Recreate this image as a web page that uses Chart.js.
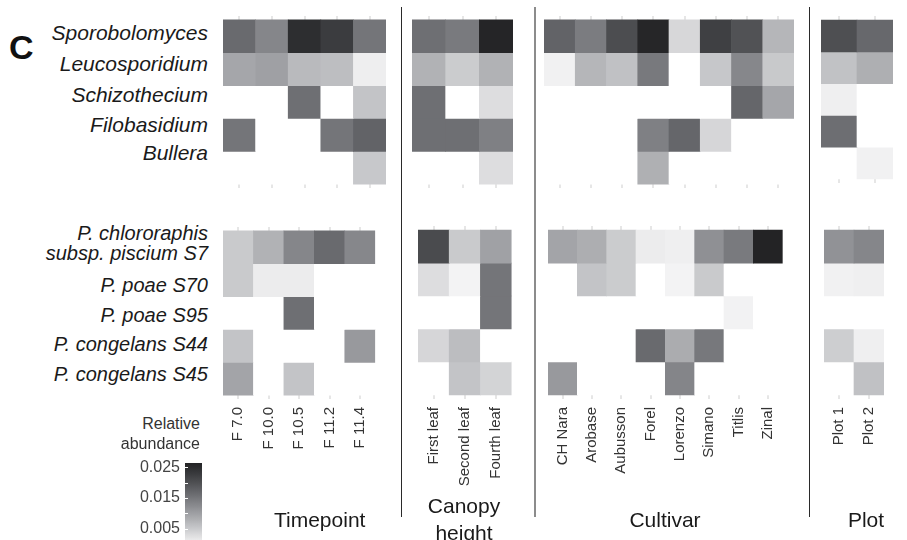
<!DOCTYPE html>
<html>
<head>
<meta charset="utf-8">
<script src="https://cdn.jsdelivr.net/npm/chart.js@4"></script>
<style>
  html, body { margin: 0; padding: 0; background: #fff; }
  body { width: 907px; height: 540px; overflow: hidden; position: relative;
         font-family: "Liberation Sans", Arial, sans-serif; }
  canvas { position: absolute; }
  .txt { position: absolute; white-space: nowrap; line-height: 1; color: #1a1a1a; }
  .sep { position: absolute; }
</style>
</head>
<body>
<script>
// ---- categories -------------------------------------------------------
const timepoints    = ['F 7.0', 'F 10.0', 'F 10.5', 'F 11.2', 'F 11.4'];
const canopyHeights = ['First leaf', 'Second leaf', 'Fourth leaf'];
const cultivars     = ['CH Nara', 'Arobase', 'Aubusson', 'Forel', 'Lorenzo', 'Simano', 'Titlis', 'Zinal'];
const plots         = ['Plot 1', 'Plot 2'];

const fungi    = ['Sporobolomyces', 'Leucosporidium', 'Schizothecium', 'Filobasidium', 'Bullera'];
const bacteria = [['P. chlororaphis', 'subsp. piscium S7'], ['P. poae S70'], ['P. poae S95'],
                  ['P. congelans S44'], ['P. congelans S45']];

const facetTitles = [['Timepoint'], ['Canopy', 'height'], ['Cultivar'], ['Plot']];

// ---- relative abundance (rows follow taxa order, 0 = not detected) ----
const fungiTimepoint = [
  [0.0165, 0.0130, 0.0248, 0.0227, 0.0151],
  [0.0091, 0.0099, 0.0068, 0.0063, 0.0009],
  [0,      0,      0.0159, 0,      0.0057],
  [0.0151, 0,      0,      0.0151, 0.0174],
  [0,      0,      0,      0,      0.0052]
];
const fungiCanopy = [
  [0.0159, 0.0145, 0.0261],
  [0.0077, 0.0047, 0.0077],
  [0.0159, 0,      0.0028],
  [0.0159, 0.0159, 0.0138],
  [0,      0,      0.0028]
];
const fungiCultivar = [
  [0.0174, 0.0143, 0.0204, 0.0259, 0.0035, 0.0222, 0.0197, 0.0073],
  [0.0006, 0.0073, 0.0060, 0.0146, 0,      0.0053, 0.0129, 0.0051],
  [0,      0,      0,      0,      0,      0,      0.0171, 0.0091],
  [0,      0,      0,      0.0137, 0.0171, 0.0036, 0,      0     ],
  [0,      0,      0,      0.0080, 0,      0,      0,      0     ]
];
const fungiPlot = [
  [0.0201, 0.0168],
  [0.0059, 0.0081],
  [0.0008, 0     ],
  [0.0160, 0     ],
  [0,      0.0006]
];

const bacteriaTimepoint = [
  [0.0050, 0.0077, 0.0130, 0.0165, 0.0129],
  [0.0050, 0.0011, 0.0011, 0,      0     ],
  [0,      0,      0.0159, 0,      0     ],
  [0.0057, 0,      0,      0,      0.0107],
  [0.0094, 0,      0.0057, 0,      0     ]
];
const bacteriaCanopy = [
  [0.0207, 0.0050, 0.0098],
  [0.0028, 0.0004, 0.0151],
  [0,      0,      0.0151],
  [0.0036, 0.0065, 0     ],
  [0,      0.0057, 0.0038]
];
const bacteriaCultivar = [
  [0.0094, 0.0082, 0.0047, 0.0011, 0.0008, 0.0118, 0.0145, 0.0264],
  [0,      0.0057, 0.0047, 0,      0.0004, 0.0050, 0,      0     ],
  [0,      0,      0,      0,      0,      0,      0.0005, 0     ],
  [0,      0,      0,      0.0165, 0.0084, 0.0148, 0,      0     ],
  [0.0107, 0,      0,      0,      0.0131, 0,      0,      0     ]
];
const bacteriaPlot = [
  [0.0116, 0.0130],
  [0.0006, 0.0008],
  [0,      0     ],
  [0.0045, 0.0008],
  [0,      0.0060]
];

// colour bar
const legendTicks = [0.005, 0.015, 0.025];
const legendMinorTicks = [0.01, 0.02];
const legendMax = 0.0264;

// ---- colour scale: lightness falls linearly with abundance -------------
function shade(v) {
  const L = Math.max(97 - 3155 * v, 0);
  const fy = (L + 16) / 116;
  const Y = L > 8 ? fy * fy * fy : L / 903.3;
  const s = Y > 0.0031308 ? 1.055 * Math.pow(Y, 1 / 2.4) - 0.055 : 12.92 * Y;
  const g = Math.round(Math.min(Math.max(s, 0), 1) * 255);
  const t = Math.sin(Math.PI * g / 255);
  const r = Math.max(0, g - Math.round(1 * t));
  const b = Math.min(255, g + Math.round(4 * t));
  return `rgb(${r},${g},${b})`;
}
function fillFor(v) { return v > 0 ? shade(v) : '#ffffff'; }

const FONT = '"Liberation Sans", Arial, sans-serif';
Chart.defaults.font.family = FONT;
Chart.defaults.animation = false;

// ---- one heat-map panel --------------------------------------------
function panel(labels, values, box, showLabels) {
  const nRows = values.length;
  const rowH = (box.bottom - box.top) / nRows;
  const pad = 0.12 * rowH;
  const axisH = showLabels ? 130 : 0;
  const areaH = Math.round(box.bottom - box.top + 2 * pad);
  const top = box.top - (areaH - (box.bottom - box.top)) / 2;
  const span = areaH / rowH;
  const yMin = -(span - nRows) / 2;

  const cv = document.createElement('canvas');
  cv.width = Math.round(box.right - box.left);
  cv.height = areaH + axisH;
  cv.style.left = box.left + 'px';
  cv.style.top = top + 'px';
  document.body.appendChild(cv);

  new Chart(cv, {
    type: 'bar',
    data: {
      labels: labels,
      datasets: values.map((row, r) => ({
        data: row.map(() => [r, r + 1]),
        backgroundColor: row.map(fillFor),
        borderWidth: 0,
        grouped: false,
        barPercentage: 1,
        categoryPercentage: 1
      }))
    },
    options: {
      responsive: false,
      animation: false,
      layout: { padding: 0 },
      plugins: { legend: { display: false }, tooltip: { enabled: false } },
      scales: {
        x: {
          type: 'category',
          offset: true,
          border: { display: false },
          grid: { offset: false, drawTicks: false, color: '#e6e6e6', lineWidth: 2 },
          ticks: {
            display: showLabels,
            autoSkip: false,
            minRotation: 90,
            maxRotation: 90,
            padding: 8,
            color: '#333333',
            font: { size: 15, family: FONT }
          },
          afterFit: s => { s.height = axisH; }
        },
        y: {
          type: 'linear',
          reverse: true,
          min: yMin,
          max: nRows - yMin,
          display: false
        }
      }
    }
  });
}

// ---- text helper --------------------------------------------------
function text(str, x, baseline, size, opts = {}) {
  const d = document.createElement('div');
  d.className = 'txt';
  d.textContent = str;
  d.style.fontSize = size + 'px';
  d.style.top = (baseline - 0.8465 * size) + 'px';
  if (opts.italic) d.style.fontStyle = 'italic';
  if (opts.bold) d.style.fontWeight = 'bold';
  if (opts.color) d.style.color = opts.color;
  const align = opts.align || 'left';
  if (align === 'right') { d.style.right = (907 - x) + 'px'; d.style.textAlign = 'right'; }
  else if (align === 'center') { d.style.left = (x - 150) + 'px'; d.style.width = '300px'; d.style.textAlign = 'center'; }
  else d.style.left = x + 'px';
  document.body.appendChild(d);
}
function sep(x, w, color) {
  const d = document.createElement('div');
  d.className = 'sep';
  Object.assign(d.style, { left: x + 'px', top: '7px', width: w + 'px', height: '510px', background: color });
  document.body.appendChild(d);
}

// ---- panels -----------------------------------------------------------
panel(timepoints,    fungiTimepoint,    { left: 222.7, right: 386, top: 20, bottom: 184.4 }, false);
panel(canopyHeights, fungiCanopy,       { left: 412,   right: 513, top: 20, bottom: 184.4 }, false);
panel(cultivars,     fungiCultivar,     { left: 544,   right: 794, top: 20, bottom: 184.4 }, false);
panel(plots,         fungiPlot,         { left: 821,   right: 893, top: 20, bottom: 179   }, false);

panel(timepoints,    bacteriaTimepoint, { left: 222.7, right: 386, top: 230.3, bottom: 394.7 }, true);
panel(canopyHeights, bacteriaCanopy,    { left: 418,   right: 522, top: 230,   bottom: 394.7 }, true);
panel(cultivars,     bacteriaCultivar,  { left: 548,   right: 794, top: 230,   bottom: 394.7 }, true);
panel(plots,         bacteriaPlot,      { left: 824,   right: 895, top: 230,   bottom: 394.7 }, true);

// panel separators
sep(400.5, 1.2, '#2a2a2a');
sep(533.5, 2, '#8c8c8c');
sep(808.5, 1.2, '#2a2a2a');

// ---- labels ------------------------------------------------------------
text('C', 9, 59, 34, { bold: true, color: '#111' });

const fungiBaselines = [40, 70.7, 101.7, 131.7, 160];
fungi.forEach((name, i) => text(name, 208, fungiBaselines[i], 21, { italic: true, align: 'right' }));

const bacteriaBaselines = [[239.6, 260], [291.5], [321.5], [351], [381]];
bacteria.forEach((lines, i) =>
  lines.forEach((ln, j) => text(ln, 208, bacteriaBaselines[i][j], 20, { italic: true, align: 'right' })));

const facetCenters = [319.7, 464, 665, 866];
const facetBaselines = [[527], [513, 540], [527], [527]];
facetTitles.forEach((lines, i) =>
  lines.forEach((ln, j) => text(ln, facetCenters[i], facetBaselines[i][j], 21, { align: 'center' })));

text('Relative', 200, 430, 16, { align: 'right', color: '#333' });
text('abundance', 200, 450, 16, { align: 'right', color: '#333' });

// ---- colour bar ------------------------------------------------------
(function colourBar() {
  const axisW = 60, barW = 17, padTop = 20, padBottom = 20;
  const barH = Math.round(legendMax * 3070);
  const cv = document.createElement('canvas');
  cv.width = axisW + barW;
  cv.height = padTop + barH + padBottom;
  cv.style.left = (185 - axisW) + 'px';
  cv.style.top = (463 - padTop) + 'px';
  document.body.appendChild(cv);

  const tickMarks = {
    id: 'tickMarks',
    afterDatasetsDraw(chart) {
      const { ctx, chartArea, scales } = chart;
      ctx.save();
      ctx.strokeStyle = '#ffffff';
      ctx.lineWidth = 1;
      legendTicks.concat(legendMinorTicks).forEach(v => {
        const y = Math.round(scales.y.getPixelForValue(v)) + 0.5;
        ctx.beginPath();
        ctx.moveTo(chartArea.left, y);
        ctx.lineTo(chartArea.left + 3, y);
        ctx.stroke();
      });
      ctx.restore();
    }
  };

  new Chart(cv, {
    type: 'bar',
    data: {
      labels: [''],
      datasets: [{
        data: [[0, legendMax]],
        borderWidth: 0,
        barPercentage: 1,
        categoryPercentage: 1,
        backgroundColor(c) {
          const chart = c.chart;
          if (!chart.chartArea) return shade(legendMax / 2);
          const y = chart.scales.y;
          const g = chart.ctx.createLinearGradient(0, y.getPixelForValue(0), 0, y.getPixelForValue(legendMax));
          for (let i = 0; i <= 24; i++) g.addColorStop(i / 24, shade(legendMax * i / 24));
          return g;
        }
      }]
    },
    options: {
      responsive: false,
      animation: false,
      layout: { padding: { top: padTop, bottom: padBottom } },
      plugins: { legend: { display: false }, tooltip: { enabled: false } },
      scales: {
        x: { display: false, offset: true },
        y: {
          type: 'linear',
          min: 0,
          max: legendMax,
          border: { display: false },
          grid: { display: false, drawTicks: false },
          afterBuildTicks: s => { s.ticks = legendTicks.map(v => ({ value: v })); },
          afterFit: s => { s.width = axisW; },
          ticks: {
            padding: 5,
            color: '#444444',
            font: { size: 16, family: FONT },
            callback: v => v.toFixed(3)
          }
        }
      }
    },
    plugins: [tickMarks]
  });
})();
</script>
</body>
</html>
